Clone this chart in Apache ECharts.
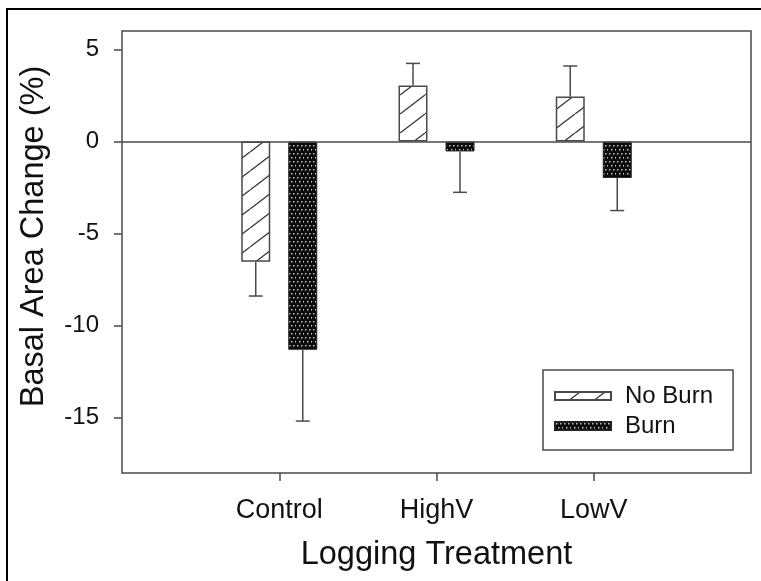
<!DOCTYPE html>
<html>
<head>
<meta charset="utf-8">
<script src="https://cdn.jsdelivr.net/npm/echarts@6/dist/echarts.min.js"></script>
<style>html,body{margin:0;padding:0;background:#fff;}#chart{width:761px;height:581px;}</style>
</head>
<body>
<div id="chart"></div>
<script>
// ---- data ----
const categories = ['Control', 'HighV', 'LowV'];
const noBurn = [-6.53, 3.04, 2.44];
const noBurnSE = [1.86, 1.20, 1.66];
const burn = [-11.31, -0.54, -1.98];
const burnSE = [3.87, 2.22, 1.77];
const yTicks = [-15, -10, -5, 0, 5];

// ---- styling constants ----
const FONT = "'Liberation Sans', Arial, sans-serif";
const BAR_W = 29;
const BAR_GAP_PX = 18;
const LINE = '#4a4a4a';

function hatchPattern() {
  const c = document.createElement('canvas');
  c.width = 25; c.height = 19;
  const g = c.getContext('2d');
  g.fillStyle = '#fff'; g.fillRect(0, 0, 25, 19);
  g.strokeStyle = '#333'; g.lineWidth = 1.3;
  for (const dx of [-25, 0, 25]) {
    g.beginPath(); g.moveTo(dx, 19); g.lineTo(dx + 25, 0); g.stroke();
  }
  return { image: c, repeat: 'repeat' };
}
function dotPattern() {
  const c = document.createElement('canvas');
  c.width = 8; c.height = 8;
  const g = c.getContext('2d');
  g.fillStyle = '#0b0b0b'; g.fillRect(0, 0, 8, 8);
  g.fillStyle = '#c4c4c4';
  [[1,1],[5,1],[3,5],[7,5]].forEach(p => g.fillRect(p[0], p[1], 1.5, 1.5));
  return { image: c, repeat: 'repeat' };
}

const axisCats = [''].concat(categories, ['']);
const pad = v => ['-'].concat(v, ['-']);

function errData(vals, se) {
  return vals.map((v, i) => [i + 1, v, v < 0 ? v - se[i] : v + se[i]]);
}
function errRender(offset) {
  return function (params, api) {
    const a = api.coord([api.value(0), api.value(1)]);
    const b = api.coord([api.value(0), api.value(2)]);
    const x = a[0] + offset;
    const cap = 7;
    const st = { stroke: LINE, lineWidth: 1.5, fill: null };
    return {
      type: 'group',
      children: [
        { type: 'line', shape: { x1: x, y1: a[1], x2: x, y2: b[1] }, style: st },
        { type: 'line', shape: { x1: x - cap, y1: b[1], x2: x + cap, y2: b[1] }, style: st }
      ]
    };
  };
}
const off = (BAR_W + BAR_GAP_PX) / 2;

const chart = echarts.init(document.getElementById('chart'), null, { renderer: 'canvas' });
chart.setOption({
  animation: false,
  backgroundColor: '#fff',
  textStyle: { fontFamily: FONT },
  graphic: [{
    type: 'rect', shape: { x: 7, y: 9, width: 800, height: 620 },
    style: { fill: null, stroke: '#000', lineWidth: 2 }, silent: true, z: 100
  }],
  grid: {
    left: 122, top: 31, right: 10, bottom: 108,
    show: true, borderColor: LINE, borderWidth: 1.5, backgroundColor: 'transparent'
  },
  legend: {
    orient: 'vertical', left: 543, top: 370,
    data: ['No Burn', 'Burn'],
    icon: 'rect', itemWidth: 56, itemHeight: 8, itemGap: 4,
    padding: [13, 20, 11, 11],
    borderColor: LINE, borderWidth: 1.5, backgroundColor: '#fff',
    textStyle: { fontFamily: FONT, fontSize: 24, lineHeight: 26, color: '#111', padding: [0, 0, 0, 9] },
    selectedMode: false
  },
  xAxis: {
    type: 'category', data: axisCats, boundaryGap: false,
    name: 'Logging Treatment', nameLocation: 'middle', nameGap: 66,
    nameTextStyle: { fontFamily: FONT, fontSize: 32.5, color: '#111' },
    axisLine: { show: false, onZero: false },
    axisTick: { show: true, length: 8, lineStyle: { color: LINE, width: 1.5 },
      interval: (i) => i >= 1 && i <= categories.length },
    axisLabel: { fontFamily: FONT, fontSize: 27, color: '#111', margin: 24,
      interval: (i) => i >= 1 && i <= categories.length },
    splitLine: { show: false }
  },
  yAxis: {
    type: 'value', min: -18, max: 6,
    name: 'Basal Area Change (%)', nameLocation: 'middle', nameGap: 71,
    nameTextStyle: { fontFamily: FONT, fontSize: 32.5, color: '#111', padding: [0, 0, 0, 31] },
    axisLine: { show: false, onZero: false },
    axisTick: { show: true, length: 8, lineStyle: { color: LINE, width: 1.5 }, customValues: yTicks },
    axisLabel: { fontFamily: FONT, fontSize: 24, color: '#111', margin: 23, customValues: yTicks },
    splitLine: { show: false }
  },
  series: [
    {
      name: 'No Burn', type: 'bar', data: pad(noBurn),
      barWidth: BAR_W, barGap: (BAR_GAP_PX / BAR_W * 100) + '%',
      itemStyle: { color: hatchPattern(), borderColor: LINE, borderWidth: 1.5 },
      markLine: {
        silent: true, symbol: 'none', label: { show: false },
        lineStyle: { color: LINE, width: 1.5, type: 'solid' },
        data: [{ yAxis: 0 }]
      },
      z: 2
    },
    {
      name: 'Burn', type: 'bar', data: pad(burn),
      barWidth: BAR_W,
      itemStyle: { color: dotPattern(), borderColor: '#222', borderWidth: 1 },
      z: 2
    },
    { type: 'custom', data: errData(noBurn, noBurnSE), renderItem: errRender(-off), z: 3 },
    { type: 'custom', data: errData(burn, burnSE), renderItem: errRender(off), z: 3 }
  ]
});
</script>
</body>
</html>
